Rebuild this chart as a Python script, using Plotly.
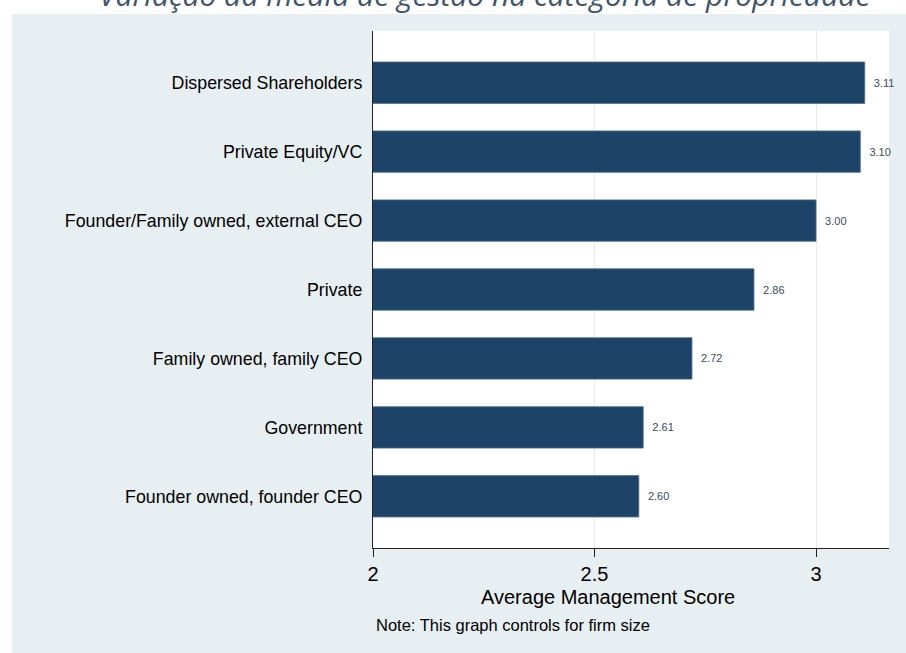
import plotly.graph_objects as go

# data (top bar first)
categories = [
    "Dispersed Shareholders",
    "Private Equity/VC",
    "Founder/Family owned, external CEO",
    "Private",
    "Family owned, family CEO",
    "Government",
    "Founder owned, founder CEO",
]
scores = [3.11, 3.10, 3.00, 2.86, 2.72, 2.61, 2.60]
x_ticks = [2, 2.5, 3]
x_tick_labels = ["2", "2.5", "3"]

W, H = 906, 653
L, R, T, B = 373, 17, 31, 105
pw, ph = W - L - R, H - T - B


def px_x(p):
    return (p - L) / pw


def px_y(p):
    return (H - B - p) / ph


fig = go.Figure()
fig.add_trace(go.Bar(
    y=categories[::-1],
    x=scores[::-1],
    orientation="h",
    width=0.6,
    marker=dict(color="#1d4468", line=dict(color="#4d6d8c", width=0.8)),
    text=scores[::-1],
    texttemplate="  %{x:.2f}",
    textposition="outside",
    textfont=dict(family="Liberation Sans, Arial", size=11, color="#3b4a63"),
    cliponaxis=False,
    hoverinfo="skip",
))

fig.update_xaxes(
    range=[2, 2 + pw / 443.0],
    tickvals=x_ticks,
    ticktext=x_tick_labels,
    ticks="outside", ticklen=8, tickcolor="#222",
    tickfont=dict(family="Liberation Sans, Arial", size=20, color="#000"),
    showgrid=True, gridcolor="#e3ebf0", gridwidth=1,
    showline=True, linecolor="#222", linewidth=1.2,
    zeroline=False,
)
fig.update_yaxes(
    range=[-0.75, 6.75],
    tickfont=dict(family="Liberation Sans, Arial", size=17.8, color="#000"),
    showgrid=False,
    showline=True, linecolor="#222", linewidth=1.2,
    ticks="", ticklabelstandoff=6,
)

# white strips around the light Stata-style background
fig.add_shape(type="rect", xref="paper", yref="paper",
              x0=px_x(0), x1=px_x(W), y0=px_y(14), y1=px_y(0) + 0.01,
              fillcolor="white", line_width=0, layer="below")
fig.add_shape(type="rect", xref="paper", yref="paper",
              x0=px_x(0) - 0.01, x1=px_x(12), y0=px_y(H) - 0.01, y1=px_y(0) + 0.01,
              fillcolor="white", line_width=0, layer="below")

annotations = [
    dict(text="Average Management Score", x=px_x(608), y=px_y(597),
         xanchor="center", yanchor="middle",
         font=dict(family="Liberation Sans, Arial", size=20, color="#000")),
    dict(text="Note: This graph controls for firm size", x=px_x(374), y=px_y(625),
         xanchor="left", yanchor="middle",
         font=dict(family="Liberation Sans, Arial", size=16.5, color="#000")),
    # title cut off at the top edge of the screenshot
    dict(text="<i>Variação da média de gestão na categoria de propriedade</i>",
         x=px_x(97), y=px_y(-6), xanchor="left", yanchor="middle",
         font=dict(family="Open Sans", size=30, color="#44546a")),
]
for a in annotations:
    fig.add_annotation(xref="paper", yref="paper", showarrow=False, **a)

fig.update_layout(
    width=W, height=H,
    margin=dict(l=L, r=R, t=T, b=B),
    paper_bgcolor="#e8eff2",
    plot_bgcolor="white",
    showlegend=False,
    bargap=0.4,
)

fig.write_html("out.html", config={"displayModeBar": False},
               post_script="document.body.style.margin='0';")
